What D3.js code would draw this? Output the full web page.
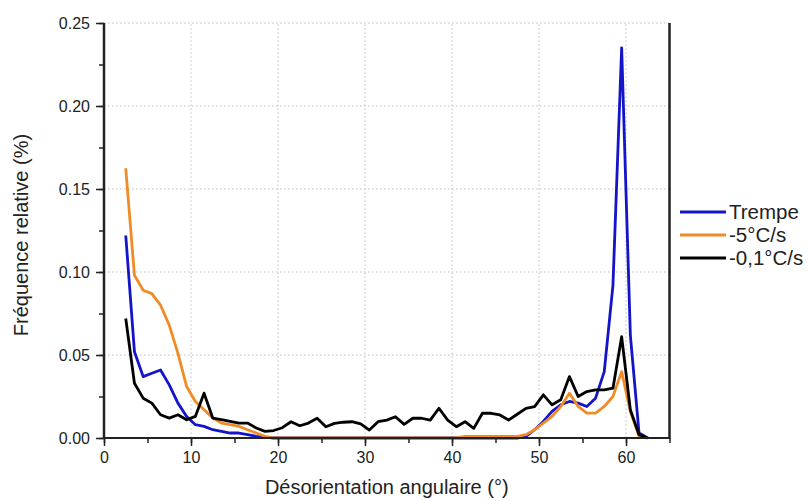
<!DOCTYPE html>
<html><head><meta charset="utf-8">
<script src="https://cdn.jsdelivr.net/npm/d3@7"></script>
<style>body{margin:0;background:#fff}svg{display:block;font-family:"Liberation Sans",Arial,sans-serif}</style>
</head><body><svg id="c" width="808" height="501"></svg>
<script>
const angles = [2.5,3.5,4.5,5.5,6.5,7.5,8.5,9.5,10.5,11.5,12.5,13.5,14.5,15.5,16.5,17.5,18.5,19.5,20.5,21.5,22.5,23.5,24.5,25.5,26.5,27.5,28.5,29.5,30.5,31.5,32.5,33.5,34.5,35.5,36.5,37.5,38.5,39.5,40.5,41.5,42.5,43.5,44.5,45.5,46.5,47.5,48.5,49.5,50.5,51.5,52.5,53.5,54.5,55.5,56.5,57.5,58.5,59.5,60.5,61.5,62.5];
const trempe = [0.122,0.052,0.037,0.039,0.041,0.032,0.021,0.013,0.008,0.007,0.005,0.004,0.003,0.003,0.002,0.001,0.0005,0,0,0,0,0,0,0,0,0,0,0,0,0,0,0,0,0,0,0,0,0,0,0,0,0,0,0,0,0,0.001,0.005,0.010,0.016,0.020,0.022,0.021,0.019,0.024,0.040,0.092,0.235,0.062,0.003,0];
const moins5 = [0.1625,0.098,0.089,0.087,0.080,0.068,0.051,0.031,0.022,0.017,0.012,0.009,0.008,0.007,0.005,0.003,0.001,0,0,0,0,0,0,0,0,0,0,0,0,0,0,0,0,0,0,0,0,0,0,0.001,0.001,0.001,0.001,0.001,0.001,0.001,0.002,0.005,0.009,0.013,0.019,0.027,0.019,0.015,0.015,0.019,0.025,0.040,0.016,0.001,0];
const moins01 = [0.072,0.033,0.024,0.021,0.014,0.012,0.014,0.011,0.013,0.027,0.012,0.011,0.010,0.009,0.009,0.006,0.004,0.0045,0.0062,0.0098,0.0074,0.009,0.0119,0.0068,0.0088,0.0095,0.0098,0.0085,0.0048,0.0098,0.0108,0.0128,0.0082,0.0119,0.0119,0.0108,0.0179,0.0108,0.0068,0.0098,0.0058,0.0149,0.0149,0.0139,0.0108,0.0143,0.0179,0.0189,0.026,0.020,0.023,0.037,0.025,0.028,0.029,0.029,0.030,0.061,0.017,0.002,0];
const seriesNames = ["Trempe","-5°C/s","-0,1°C/s"];
const seriesColors = ["#1414c8","#f08c28","#000000"];
const xTicks = [0,10,20,30,40,50,60];
const yTicks = [0,0.05,0.10,0.15,0.20,0.25];

const svg = d3.select("#c");
const m = {l:104, t:23, r:138.5, b:63};
const W = 808, H = 501;
const x = d3.scaleLinear().domain([0,65]).range([m.l, W-m.r]);
const y = d3.scaleLinear().domain([0,0.25]).range([H-m.b, m.t]);

// grid
const grid = svg.append("g").attr("stroke","#bdbdbd").attr("stroke-width",1).attr("stroke-dasharray","1.5,2.5");
grid.selectAll(".gx").data(xTicks.filter(d=>d>0)).join("line")
  .attr("x1",d=>x(d)).attr("x2",d=>x(d)).attr("y1",y(0)).attr("y2",y(0.25));
grid.selectAll(".gy").data(yTicks.filter(d=>d>0)).join("line")
  .attr("x1",x(0)).attr("x2",x(65)).attr("y1",d=>y(d)).attr("y2",d=>y(d));

// lines
const data = [trempe, moins5, moins01];
const line = d3.line().x((d,i)=>x(angles[i])).y(d=>y(d));
data.forEach((s,k)=>{
  svg.append("path").datum(s).attr("d",line).attr("fill","none")
    .attr("stroke",seriesColors[k]).attr("stroke-width",2.8).attr("stroke-linejoin","round");
});

// axes
const axCol = "#222";
const xMinor = d3.range(0,66,5);
const yMinor = d3.range(0,0.2501,0.025);
const gx = svg.append("g").attr("transform",`translate(0,${y(0)})`)
  .call(d3.axisBottom(x).tickValues(xMinor).tickSize(5).tickFormat(""));
gx.select(".domain").remove();
gx.selectAll("line").attr("stroke",axCol).attr("stroke-width",1.5);
const gx2 = svg.append("g").attr("transform",`translate(0,${y(0)})`)
  .call(d3.axisBottom(x).tickValues(xTicks).tickSize(8).tickPadding(6).tickFormat(d3.format("d")));
gx2.select(".domain").remove();
gx2.selectAll("line").attr("stroke",axCol).attr("stroke-width",1.5);
gx2.selectAll("text").attr("font-size",16).attr("fill","#222").attr("font-family","Liberation Sans, Arial, sans-serif");

const gy = svg.append("g").attr("transform",`translate(${x(0)},0)`)
  .call(d3.axisLeft(y).tickValues(yMinor).tickSize(5).tickFormat(""));
gy.select(".domain").remove();
gy.selectAll("line").attr("stroke",axCol).attr("stroke-width",1.5);
const gy2 = svg.append("g").attr("transform",`translate(${x(0)},0)`)
  .call(d3.axisLeft(y).tickValues(yTicks).tickSize(8).tickPadding(6).tickFormat(d3.format(".2f")));
gy2.select(".domain").remove();
gy2.selectAll("line").attr("stroke",axCol).attr("stroke-width",1.5);
gy2.selectAll("text").attr("font-size",16).attr("fill","#222").attr("font-family","Liberation Sans, Arial, sans-serif");

// frame lines
svg.append("line").attr("x1",x(0)).attr("x2",x(65)).attr("y1",y(0)).attr("y2",y(0)).attr("stroke",axCol).attr("stroke-width",2);
svg.append("line").attr("x1",x(0)).attr("x2",x(0)).attr("y1",y(0)+1).attr("y2",y(0.25)).attr("stroke",axCol).attr("stroke-width",2.5);
svg.append("line").attr("x1",x(65)).attr("x2",x(65)).attr("y1",y(0)+1).attr("y2",y(0.25)).attr("stroke",axCol).attr("stroke-width",2.5);

// titles
svg.append("text").attr("x",(x(0)+x(65))/2).attr("y",494).attr("text-anchor","middle")
  .attr("font-size",20).attr("fill","#222").text("Désorientation angulaire (°)");
svg.append("text").attr("transform",`translate(28,235) rotate(-90)`).attr("text-anchor","middle")
  .attr("font-size",20).attr("fill","#222").text("Fréquence relative (%)");

// legend
const lg = svg.append("g");
const ly = [212,235,258];
seriesNames.forEach((n,k)=>{
  lg.append("line").attr("x1",680).attr("x2",726).attr("y1",ly[k]).attr("y2",ly[k])
    .attr("stroke",seriesColors[k]).attr("stroke-width",2.8);
  lg.append("text").attr("x",729).attr("y",ly[k]).attr("dy","0.36em").attr("font-size",20.5)
    .attr("fill","#222").text(n);
});
</script></body></html>
